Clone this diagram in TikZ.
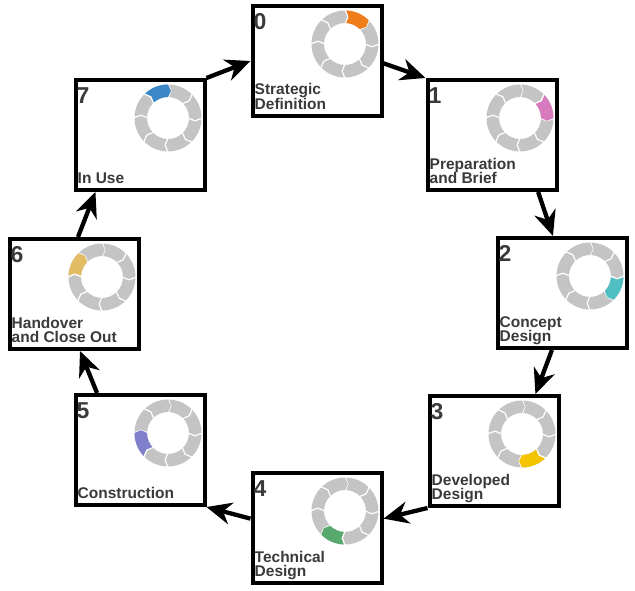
\documentclass[tikz,border=0pt]{standalone}
\usepackage{fontspec}
\setmainfont{Liberation Sans}
\usetikzlibrary{arrows.meta,calc}

\definecolor{stageorange}{HTML}{EE7D1A}
\definecolor{stagepink}{HTML}{D87BBE}
\definecolor{stageteal}{HTML}{4FBFC2}
\definecolor{stageyellow}{HTML}{F5C400}
\definecolor{stagegreen}{HTML}{58A96E}
\definecolor{stagepurple}{HTML}{7F7FCB}
\definecolor{stagetan}{HTML}{E3BD66}
\definecolor{stageblue}{HTML}{3B88C9}
\definecolor{ringgray}{HTML}{C4C4C4}
\definecolor{labelgray}{HTML}{3A3A3A}

\newcommand{\ringseg}[2]{%
  \fill[#2] (#1:33.5pt) arc[start angle=#1, end angle=#1-45, radius=33.5pt]
    -- (#1-51:27.25pt) -- (#1-45:21pt) arc[start angle=#1-45, end angle=#1, radius=21pt]
    -- (#1-6:27.25pt) -- cycle;
  \draw[white, line width=1.2pt] (#1:34.5pt) -- (#1-6:27.25pt) -- (#1:20pt);}

\begin{document}
\begin{tikzpicture}[x=1pt,y=1pt,
  stagebox/.style={draw, line width=4pt, minimum width=129pt, minimum height=110pt, inner sep=0pt},
  stagenum/.style={font=\bfseries\fontsize{23}{23}\selectfont, text=labelgray, inner sep=0pt, anchor=north west},
  stagelab/.style={font=\bfseries\fontsize{15.5}{14.5}\selectfont, text=labelgray, inner sep=0pt,
    align=left, anchor=south west, text depth=0pt},
  flow/.style={line width=4.3pt, -{Stealth[length=25pt,width=22pt,inset=8pt]}}]

\useasboundingbox (0,0) rectangle (635,591);

\foreach \k/\x/\y/\col/\lab in {
    0/317/530/stageorange/{Strategic\\Definition},
    1/492/456/stagepink/{Preparation\\and Brief},
    2/562/298/stageteal/{Concept\\Design},
    3/494/140/stageyellow/{Developed\\Design},
    4/317/63/stagegreen/{Technical\\Design},
    5/140/141/stagepurple/{Construction},
    6/74/297/stagetan/{Handover\\and Close Out},
    7/140/456/stageblue/{In Use}}
{
  \node[stagebox] (b\k) at (\x,\y) {};
  \node[stagenum] (n\k) at ([xshift=3pt,yshift=-9pt]b\k.north west) {\k};
  \node[stagelab] (l\k) at ([xshift=4pt,yshift=8pt]b\k.south west) {\lab};
  % ring of eight stages, the current one coloured
  \begin{scope}[shift={($(b\k.center)+(28,17)$)}]
    \foreach \a in {90,45,...,-225}
      \ringseg{\a}{ringgray};
    \ringseg{90-45*\k}{\col}
  \end{scope}
}

\foreach \s/\t in {b0.-2/b1.north west, b1.-51/b2.99, b2.-100/b3.54, b3.south west/b4.8,
    b4.172/b5.south east, b5.127/b6.-84, b6.86/b7.-128, b7.north east/b0.west}
  \draw[flow] (\s) -- (\t);

\end{tikzpicture}
\end{document}
